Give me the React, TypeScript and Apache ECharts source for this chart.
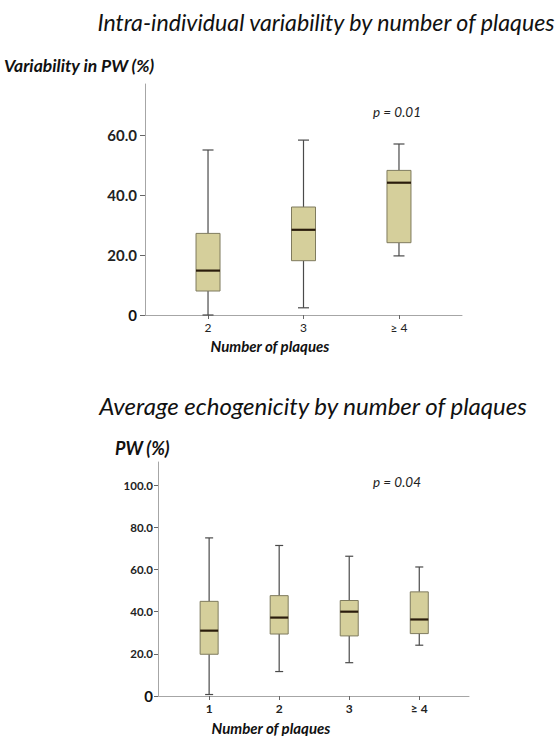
import React, { useEffect, useRef } from "react";
import * as echarts from "echarts";

// ---- Top chart: Intra-individual variability by number of plaques ----
const topCategories = ["2", "3", "≥ 4"];
const topMin = [0.0, 2.4, 19.7];
const topQ1 = [8.0, 18.1, 24.1];
const topMedian = [14.8, 28.4, 44.1];
const topQ3 = [27.2, 36.0, 48.2];
const topMax = [55.0, 58.3, 57.0];
const topYTicks = [0, 20, 40, 60];

// ---- Bottom chart: Average echogenicity by number of plaques ----
const bottomCategories = ["1", "2", "3", "≥ 4"];
const bottomMin = [0.7, 11.6, 15.8, 24.1];
const bottomQ1 = [19.8, 29.4, 28.5, 29.6];
const bottomMedian = [31.0, 37.2, 40.0, 36.3];
const bottomQ3 = [44.9, 47.6, 45.3, 49.4];
const bottomMax = [75.0, 71.4, 66.3, 61.2];
const bottomOutlierCategory = ["2"];
const bottomOutlierValue = [79.9];
const bottomYTicks = [0, 20, 40, 60, 80, 100];

const FONT = "Lato";
const BOX_FILL = "#d5cf9b";
const BOX_BORDER = "#7f7b5e";
const WHISKER = "#4a4a4a";
const MEDIAN = "#2a1c0c";
const AXIS = "#a6a6a6";

function buildBoxData(mins: number[], q1: number[], med: number[], q3: number[], maxs: number[]) {
  return mins.map((_, i) => [i + 1, mins[i], q1[i], med[i], q3[i], maxs[i]]);
}

function makeRenderItem(boxW: number, capW: number) {
  return (params: any, api: any) => {
    const x = api.value(0);
    const pMin = api.coord([x, api.value(1)]);
    const pQ1 = api.coord([x, api.value(2)]);
    const pMed = api.coord([x, api.value(3)]);
    const pQ3 = api.coord([x, api.value(4)]);
    const pMax = api.coord([x, api.value(5)]);
    const cx = pMed[0];
    const hb = boxW / 2;
    const hc = capW / 2;
    const lineStyle = { stroke: WHISKER, lineWidth: 1.2 };
    return {
      type: "group",
      children: [
        { type: "line", shape: { x1: cx, y1: pMin[1], x2: cx, y2: pQ1[1] }, style: lineStyle },
        { type: "line", shape: { x1: cx, y1: pQ3[1], x2: cx, y2: pMax[1] }, style: lineStyle },
        { type: "line", shape: { x1: cx - hc, y1: pMin[1], x2: cx + hc, y2: pMin[1] }, style: lineStyle },
        { type: "line", shape: { x1: cx - hc, y1: pMax[1], x2: cx + hc, y2: pMax[1] }, style: lineStyle },
        {
          type: "rect",
          shape: { x: cx - hb, y: pQ3[1], width: boxW, height: pQ1[1] - pQ3[1] },
          style: { fill: BOX_FILL, stroke: BOX_BORDER, lineWidth: 1 },
        },
        { type: "line", shape: { x1: cx - hb, y1: pMed[1], x2: cx + hb, y2: pMed[1] }, style: { stroke: MEDIAN, lineWidth: 2.2 } },
      ],
    };
  };
}

function textEl(text: string, x: number, y: number, size: number, bold: boolean, align: string, fill = "#111") {
  return {
    type: "text",
    x,
    y,
    style: {
      text,
      fontFamily: FONT,
      fontStyle: "italic",
      fontWeight: bold ? "bold" : "normal",
      fontSize: size,
      fill,
      textAlign: align,
      textVerticalAlign: "middle",
    },
  };
}

export default function App() {
  const ref = useRef<HTMLDivElement>(null);

  useEffect(() => {
    if (!ref.current) return;
    const chart = echarts.init(ref.current, undefined, { renderer: "svg" });

    const topData = buildBoxData(topMin, topQ1, topMedian, topQ3, topMax);
    const bottomData = buildBoxData(bottomMin, bottomQ1, bottomMedian, bottomQ3, bottomMax);
    const outlierData = bottomOutlierCategory.map((c, i) => [bottomCategories.indexOf(c) + 1, bottomOutlierValue[i]]);

    const yLabelRich = (big: number, small: number) => ({
      z: { fontFamily: FONT, fontWeight: "bold", fontSize: big, color: "#111" },
      n: { fontFamily: FONT, fontWeight: "bold", fontSize: small, color: "#222" },
    });

    const option: any = {
      animation: false,
      backgroundColor: "#ffffff",
      grid: [
        { left: 145, top: 84, width: 317, height: 231 },
        { left: 158, top: 462, width: 311, height: 234 },
      ],
      xAxis: [
        {
          gridIndex: 0,
          type: "value",
          min: 0.34,
          max: 3.66,
          splitLine: { show: false },
          axisLine: { show: true, lineStyle: { color: AXIS, width: 1 } },
          axisTick: { show: true, length: 4, customValues: [1, 2, 3], lineStyle: { color: "#666" } },
          axisLabel: {
            customValues: [1, 2, 3],
            formatter: (v: number) => topCategories[Math.round(v) - 1] ?? "",
            fontFamily: FONT,
            fontSize: 12,
            color: "#222",
            margin: 6,
          },
        },
        {
          gridIndex: 1,
          type: "value",
          min: 0.27,
          max: 4.71,
          splitLine: { show: false },
          axisLine: { show: true, lineStyle: { color: AXIS, width: 1 } },
          axisTick: { show: true, length: 4, customValues: [1, 2, 3, 4], lineStyle: { color: "#666" } },
          axisLabel: {
            customValues: [1, 2, 3, 4],
            formatter: (v: number) => bottomCategories[Math.round(v) - 1] ?? "",
            fontFamily: FONT,
            fontWeight: "bold",
            fontSize: 12,
            color: "#222",
            margin: 6,
          },
        },
      ],
      yAxis: [
        {
          gridIndex: 0,
          type: "value",
          min: 0,
          max: 77,
          splitLine: { show: false },
          axisLine: { show: true, lineStyle: { color: AXIS, width: 1 } },
          axisTick: { show: true, length: 5, customValues: topYTicks, lineStyle: { color: "#666" } },
          axisLabel: {
            customValues: topYTicks,
            formatter: (v: number) => (v === 0 ? "{z|0}" : "{n|" + v.toFixed(1) + "}"),
            rich: yLabelRich(15, 15),
            margin: 8,
          },
        },
        {
          gridIndex: 1,
          type: "value",
          min: 0,
          max: 111,
          splitLine: { show: false },
          axisLine: { show: true, lineStyle: { color: AXIS, width: 1 } },
          axisTick: { show: true, length: 4, customValues: bottomYTicks, lineStyle: { color: "#666" } },
          axisLabel: {
            customValues: bottomYTicks,
            formatter: (v: number) => (v === 0 ? "{z|0}" : "{n|" + v.toFixed(1) + "}"),
            rich: yLabelRich(15, 11.5),
            margin: 5,
          },
        },
      ],
      series: [
        {
          type: "custom",
          xAxisIndex: 0,
          yAxisIndex: 0,
          encode: { x: 0, y: [1, 2, 3, 4, 5] },
          data: topData,
          renderItem: makeRenderItem(24, 11),
        },
        {
          type: "custom",
          xAxisIndex: 1,
          yAxisIndex: 1,
          encode: { x: 0, y: [1, 2, 3, 4, 5] },
          data: bottomData,
          renderItem: makeRenderItem(18, 8),
        },
        {
          type: "scatter",
          xAxisIndex: 1,
          yAxisIndex: 1,
          symbol: "emptyCircle",
          symbolSize: 5,
          itemStyle: { color: "#fff", borderColor: "#888", borderWidth: 1 },
          data: outlierData,
        },
      ],
      graphic: [
        textEl("Intra-individual variability by number of plaques", 326, 22, 23.2, false, "center"),
        textEl("Variability in PW (%)", 4, 65, 17.5, true, "left"),
        textEl("p = 0.01", 397, 112, 13.5, false, "center", "#222"),
        textEl("Number of plaques", 270, 346, 15, true, "center"),
        textEl("Average echogenicity by number of plaques", 313, 405, 24, false, "center"),
        textEl("PW (%)", 115, 448, 18, true, "left"),
        textEl("p = 0.04", 397, 482, 13.5, false, "center", "#222"),
        textEl("Number of plaques", 271, 728, 15, true, "center"),
      ],
    };

    chart.setOption(option);
    return () => chart.dispose();
  }, []);

  return (
    <div
      ref={ref}
      style={{ position: "fixed", left: 0, top: 0, width: 558, height: 736, background: "#fff" }}
    />
  );
}
